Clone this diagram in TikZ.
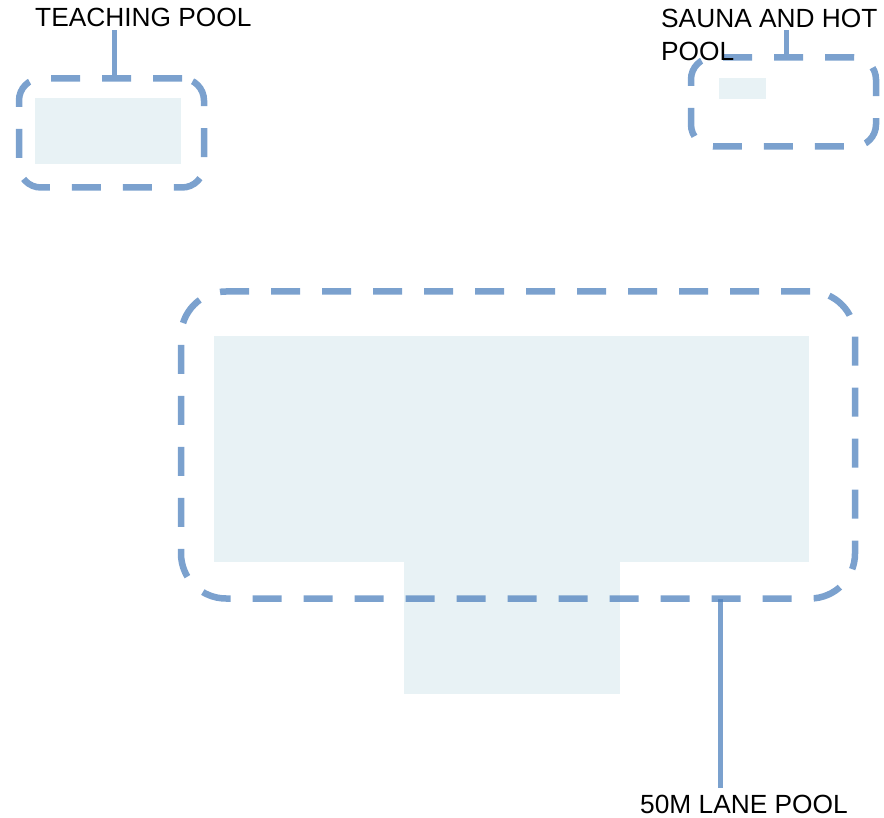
\documentclass[tikz,border=0pt]{standalone}
\usepackage{fontspec}
\setmainfont{Liberation Sans}
\usepackage{tikz}
\usetikzlibrary{
	positioning
}

\definecolor{edgeblue}{RGB}{79,129,189}
\definecolor{water}{RGB}{232,242,245}

\tikzset{
	poolbox/.style={draw=edgeblue, draw opacity=0.75, line width=6.5pt,
		dash pattern=on 29pt off 22pt, rectangle, inner sep=0pt},
	waterbox/.style={fill=water, rectangle, inner sep=0pt},
	leader/.style={draw=edgeblue, draw opacity=0.75, line width=5pt},
	lbl/.style={inner sep=0pt, font=\fontsize{26.3}{33}\selectfont, align=left}
}

\begin{document}
\begin{tikzpicture}[x=1pt, y=-1pt]
		\useasboundingbox (0,0) rectangle (884,818);

		% water surfaces
		\node[waterbox, minimum width=146pt, minimum height=66pt, anchor=north west] (teachwater) at (35,98) {};
		\node[waterbox, minimum width=47pt,  minimum height=21pt, anchor=north west] (saunawater) at (719,78) {};
		\node[waterbox, minimum width=595pt, minimum height=226pt, anchor=north west] (lanewater) at (214,336) {};
		\node[waterbox, minimum width=216pt, minimum height=132pt, anchor=north west] (shallow) at (404,562) {};

		% dashed outlines
		\node[poolbox, rounded corners=22pt, minimum width=185pt, minimum height=109pt] (teachbox) at (111.5,133) {};
		\node[poolbox, rounded corners=22pt, minimum width=185pt, minimum height=89pt]  (saunabox) at (783.5,102) {};
		\node[poolbox, rounded corners=45pt, minimum width=674pt, minimum height=307pt] (lanebox)  at (518,445) {};

		% labels (base of a wrapped label is its last line)
		\node[lbl, anchor=base west] (teachlbl) at (35,27)  {TEACHING POOL};
		\node[lbl, anchor=base west] (saunalbl) at (661,61) {SAUNA AND HOT\\POOL};
		\node[lbl, anchor=base west] (lanelbl)  at (640,813) {50M LANE POOL};

		% leader lines
		\coordinate (teachtop) at (114,30);
		\coordinate (saunatop) at (786.5,30);
		\coordinate (lanefoot) at (720.5,599);
		\coordinate (lanebot)  at (720.5,788);
		\draw[leader] (teachbox.north -| teachtop) -- (teachtop);
		\draw[leader] (saunabox.north -| saunatop) -- (saunatop);
		\draw[leader] (lanefoot) -- (lanebot);
	\end{tikzpicture}
\end{document}
